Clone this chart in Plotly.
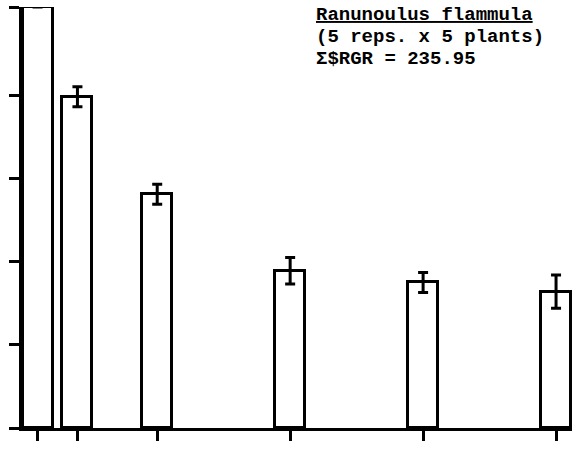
import plotly.graph_objects as go

# Harvest times (tick positions along x) and mean relative values per harvest
days = [0, 3, 9, 19, 29, 39]
mean_values = [5.06, 3.98, 2.81, 1.89, 1.75, 1.64]
error_values = [0.0, 0.12, 0.12, 0.16, 0.12, 0.20]

y_top = 5.06
y_ticks = [0, 1, 2, 3, 4, y_top]

title_lines = [
    "<u>Ranunoulus flammula</u>",
    "(5 reps. x 5 plants)",
    "Σ$RGR = 235.95",
]
title_y = [0.982, 0.929, 0.877]

fig = go.Figure()
fig.add_trace(
    go.Bar(
        x=days,
        y=mean_values,
        width=2.25,
        marker=dict(color="white", line=dict(color="black", width=3)),
        error_y=dict(
            type="data",
            array=error_values,
            visible=True,
            color="black",
            thickness=3,
            width=5,
        ),
        cliponaxis=False,
        showlegend=False,
    )
)

for text, y in zip(title_lines, title_y):
    fig.add_annotation(
        text=f"<b>{text}</b>",
        xref="paper",
        yref="paper",
        x=0.530,
        y=y,
        xanchor="left",
        yanchor="middle",
        showarrow=False,
        font=dict(family="Liberation Mono", size=19, color="black"),
    )

fig.update_layout(
    width=585,
    height=449,
    margin=dict(l=22, r=13, t=7, b=21),
    paper_bgcolor="white",
    plot_bgcolor="white",
    bargap=0,
)
fig.update_xaxes(
    range=[-1.17, 40.2],
    tickvals=days,
    showticklabels=False,
    ticks="outside",
    ticklen=10,
    tickwidth=2.5,
    tickcolor="black",
    showline=True,
    linewidth=3,
    linecolor="black",
    showgrid=False,
    zeroline=False,
)
fig.update_yaxes(
    range=[0, y_top],
    tickvals=y_ticks,
    showticklabels=False,
    ticks="outside",
    ticklen=10,
    tickwidth=2.5,
    tickcolor="black",
    showline=True,
    linewidth=3,
    linecolor="black",
    showgrid=False,
    zeroline=False,
)

fig.write_html("out.html")
